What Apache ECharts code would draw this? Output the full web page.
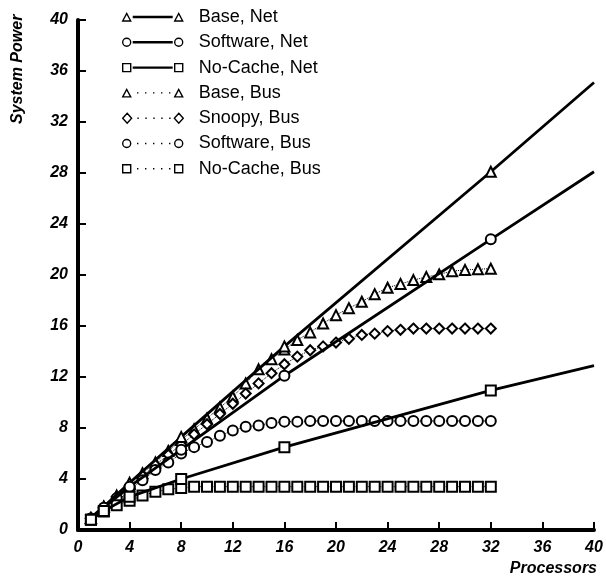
<!DOCTYPE html>
<html>
<head>
<meta charset="utf-8">
<script src="https://cdn.jsdelivr.net/npm/echarts@6/dist/echarts.min.js"></script>
<style>
  html, body { margin: 0; padding: 0; background: #fff; }
  #chart { width: 606px; height: 579px; }
</style>
</head>
<body>
<div id="chart"></div>
<script>
// processors where the Net curves carry markers (last point only continues the line)
const netX = [1, 2, 4, 8, 16, 32, 40];
const baseNet = [0.95, 1.85, 3.7, 7.3, 14.4, 28.1, 35.1];
const softwareNet = [0.9, 1.75, 3.4, 6.3, 12.1, 22.8, 28.1];
const noCacheNet = [0.8, 1.5, 2.6, 4.0, 6.5, 10.95, 12.9];

const busX = [1, 2, 3, 4, 5, 6, 7, 8, 9, 10, 11, 12, 13, 14, 15, 16,
  17, 18, 19, 20, 21, 22, 23, 24, 25, 26, 27, 28, 29, 30, 31, 32];
const baseBus = [0.93, 1.8, 2.7, 3.6, 4.45, 5.3, 6.2, 7.05, 7.9, 8.75, 9.6, 10.45,
  11.5, 12.6, 13.4, 14.15, 14.9, 15.5, 16.2, 16.85, 17.4, 17.9, 18.5, 19.0,
  19.3, 19.6, 19.85, 20.05, 20.3, 20.4, 20.45, 20.5];
const snoopyBus = [0.9, 1.75, 2.6, 3.45, 4.25, 5.1, 5.9, 6.7, 7.5, 8.3, 9.1, 9.9,
  10.7, 11.5, 12.3, 13.0, 13.6, 14.1, 14.4, 14.7, 15.0, 15.3, 15.4, 15.6,
  15.7, 15.8, 15.8, 15.8, 15.8, 15.8, 15.8, 15.8];
const softwareBus = [0.9, 1.7, 2.5, 3.2, 3.9, 4.7, 5.3, 6.0, 6.5, 6.9, 7.4, 7.8,
  8.1, 8.2, 8.4, 8.5, 8.5, 8.55, 8.55, 8.55, 8.55, 8.55, 8.55, 8.55,
  8.55, 8.55, 8.55, 8.55, 8.55, 8.55, 8.55, 8.55];
const noCacheBus = [0.8, 1.45, 1.95, 2.3, 2.7, 3.0, 3.2, 3.3, 3.4, 3.4, 3.4, 3.4,
  3.4, 3.4, 3.4, 3.4, 3.4, 3.4, 3.4, 3.4, 3.4, 3.4, 3.4, 3.4,
  3.4, 3.4, 3.4, 3.4, 3.4, 3.4, 3.4, 3.4];

const xTicks = [0, 4, 8, 12, 16, 20, 24, 28, 32, 36, 40];

// legend icons: marker, line (solid or dotted), marker, then blank space
// up to the text (legend puts text only 5px after the icon)
const BOX = 'M0 0 M71 10 ';
const SOLID = 'M10 4.5 L50 4.5 M10 5.5 L50 5.5 ';
const DOTS = 'M15 4.3 L15 5.7 M23 4.3 L23 5.7 M31 4.3 L31 5.7 M39 4.3 L39 5.7 M47 4.3 L47 5.7 ';
const mk = {
  tri: (c) => `M${c - 4} 9 L${c} 1.5 L${c + 4} 9 Z `,
  circ: (c) => `M${c - 4} 5 A4 4 0 1 0 ${c + 4} 5 A4 4 0 1 0 ${c - 4} 5 Z `,
  sq: (c) => `M${c - 4} 1 L${c + 4} 1 L${c + 4} 9 L${c - 4} 9 Z `,
  dia: (c) => `M${c} 0 L${c + 4.5} 5 L${c} 10 L${c - 4.5} 5 Z `,
};
const icon = (m, line) => 'path://' + BOX + mk[m](4) + line + mk[m](56);

const netData = (vals) =>
  netX.map((x, i) =>
    i === netX.length - 1 ? { value: [x, vals[i]], symbol: 'none' } : [x, vals[i]],
  );
const busData = (vals) => busX.map((x, i) => [x, vals[i]]);

const FONT = 'Liberation Sans, Arial, sans-serif';

const netSeries = (name, symbol, vals) => ({
  name,
  type: 'line',
  data: netData(vals),
  symbol,
  symbolSize: 10,
  z: 5,
  lineStyle: { color: '#000', width: 2.8 },
  itemStyle: { color: '#000', borderWidth: 1.3 },
});
const busSeries = (name, symbol, vals) => ({
  name,
  type: 'line',
  data: busData(vals),
  symbol,
  symbolSize: 10,
  z: 3,
  lineStyle: { color: '#000', width: 1, type: 'dotted' },
  itemStyle: { color: '#000', borderWidth: 1.3 },
});

const tickLabel = {
  margin: 10,
  color: '#000',
  fontFamily: FONT,
  fontSize: 16,
  fontWeight: 'bold',
  fontStyle: 'italic',
};

const chart = echarts.init(document.getElementById('chart'));
chart.setOption({
  animation: false,
  backgroundColor: '#fff',
  grid: { left: 78, right: 12, top: 20, bottom: 49 },
  legend: {
    orient: 'vertical',
    left: 122,
    top: 8,
    padding: 0,
    selectedMode: false,
    itemWidth: 71,
    itemHeight: 10,
    itemGap: 7.3,
    itemStyle: { color: '#fff', borderColor: '#000', borderWidth: 1.4 },
    textStyle: { fontFamily: FONT, fontSize: 18, color: '#000', lineHeight: 18 },
    data: [
      { name: 'Base, Net', icon: icon('tri', SOLID) },
      { name: 'Software, Net', icon: icon('circ', SOLID) },
      { name: 'No-Cache, Net', icon: icon('sq', SOLID) },
      { name: 'Base, Bus', icon: icon('tri', DOTS) },
      { name: 'Snoopy, Bus', icon: icon('dia', DOTS) },
      { name: 'Software, Bus', icon: icon('circ', DOTS) },
      { name: 'No-Cache, Bus', icon: icon('sq', DOTS) },
    ],
  },
  xAxis: {
    type: 'value',
    min: 0,
    max: 40,
    interval: 4,
    axisLine: { lineStyle: { color: '#000', width: 4 } },
    axisTick: { inside: true, length: 8, lineStyle: { color: '#000', width: 2 } },
    splitLine: { show: false },
    axisLabel: Object.assign({}, tickLabel, {
      formatter: (v) => (xTicks.includes(v) ? String(v) : ''),
    }),
  },
  yAxis: {
    type: 'value',
    min: 0,
    max: 40,
    interval: 4,
    axisLine: { lineStyle: { color: '#000', width: 4 } },
    axisTick: { inside: true, length: 8, lineStyle: { color: '#000', width: 2 } },
    splitLine: { show: false },
    axisLabel: tickLabel,
  },
  graphic: [
    {
      type: 'text',
      x: 10,
      y: 124,
      rotation: Math.PI / 2,
      style: {
        text: 'System Power',
        fontFamily: FONT,
        fontSize: 16,
        fontWeight: 'bold',
        fontStyle: 'italic',
        fill: '#000',
      },
    },
    {
      type: 'text',
      right: 9,
      top: 561,
      style: {
        text: 'Processors',
        fontFamily: FONT,
        fontSize: 16,
        fontWeight: 'bold',
        fontStyle: 'italic',
        fill: '#000',
      },
    },
  ],
  series: [
    busSeries('Base, Bus', 'emptyTriangle', baseBus),
    busSeries('Snoopy, Bus', 'emptyDiamond', snoopyBus),
    busSeries('Software, Bus', 'emptyCircle', softwareBus),
    busSeries('No-Cache, Bus', 'emptyRect', noCacheBus),
    netSeries('Base, Net', 'emptyTriangle', baseNet),
    netSeries('Software, Net', 'emptyCircle', softwareNet),
    netSeries('No-Cache, Net', 'emptyRect', noCacheNet),
  ],
});
</script>
</body>
</html>
